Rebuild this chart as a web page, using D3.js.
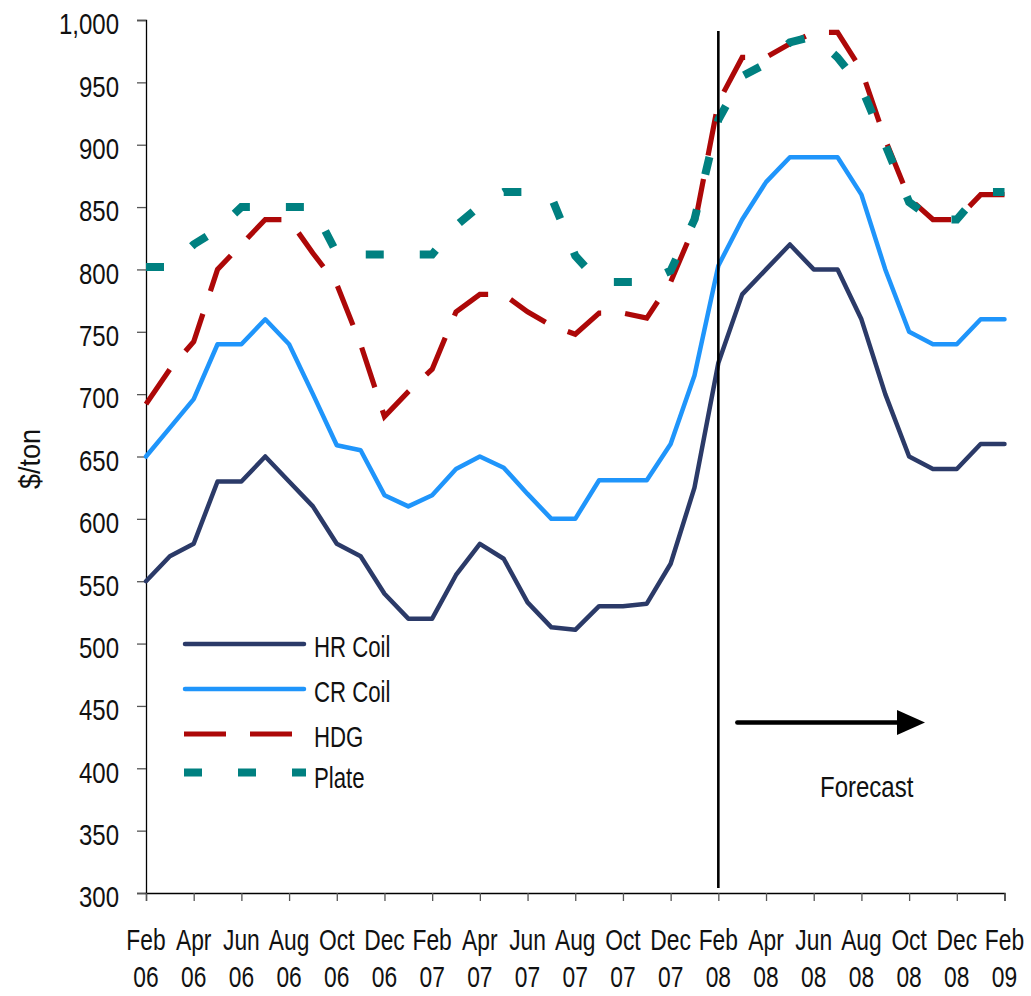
<!DOCTYPE html>
<html>
<head>
<meta charset="utf-8">
<script src="https://cdn.jsdelivr.net/npm/d3@7"></script>
<style>
  body { margin: 0; background: #fff; }
  svg text {
    font-family: "Liberation Sans", Arial, sans-serif;
    fill: #111;
  }
</style>
</head>
<body>
<svg id="chart" width="1031" height="996"></svg>
<script>
// Monthly steel price series, Feb 2006 - Feb 2009 ($/ton)
const months = [
  "Feb 06","Mar 06","Apr 06","May 06","Jun 06","Jul 06","Aug 06","Sep 06","Oct 06","Nov 06","Dec 06",
  "Jan 07","Feb 07","Mar 07","Apr 07","May 07","Jun 07","Jul 07","Aug 07","Sep 07","Oct 07","Nov 07","Dec 07",
  "Jan 08","Feb 08","Mar 08","Apr 08","May 08","Jun 08","Jul 08","Aug 08","Sep 08","Oct 08","Nov 08","Dec 08",
  "Jan 09","Feb 09"
];

const tickMonths = [
  "Feb 06","Apr 06","Jun 06","Aug 06","Oct 06","Dec 06",
  "Feb 07","Apr 07","Jun 07","Aug 07","Oct 07","Dec 07",
  "Feb 08","Apr 08","Jun 08","Aug 08","Oct 08","Dec 08","Feb 09"
];

const hrCoil = [
  550, 570, 580, 630, 630, 650, 630, 610, 580, 570, 540,
  520, 520, 555, 580, 568, 533, 513, 511, 530, 530, 532, 564,
  625, 725, 780, 800, 820, 800, 800, 760, 700, 650, 640, 640,
  660, 660
];

const crCoil = [
  650, 673, 696, 740, 740, 760, 740, 700, 659, 655, 619,
  610, 619, 640, 650, 641, 620, 600, 600, 631, 631, 631, 660,
  715, 803, 840, 870, 890, 890, 890, 860, 800, 750, 740, 740,
  760, 760
];

const hdg = [
  692, 720, 742, 800, 820, 840, 840, 813, 788, 740, 682,
  702, 720, 766, 780, 780, 766, 755, 748, 765, 765, 761, 790,
  835, 934, 970, 970, 981, 990, 990, 960, 904, 857, 840, 840,
  860, 860
];

const plate = [
  802, 802, 820, 832, 850, 850, 850, 850, 813, 812, 812,
  812, 812, 835, 851, 862, 862, 858, 811, 790, 790, 790, 799,
  840, 920, 955, 965, 982, 987, 970, 946, 900, 854, 840, 840,
  862, 862
];

const yTicks = [300, 350, 400, 450, 500, 550, 600, 650, 700, 750, 800, 850, 900, 950, 1000];

const forecastStart = "Feb 08";

const series = [
  { name: "HR Coil", values: hrCoil, color: "#2b3a68", width: 4.5, dash: null },
  { name: "CR Coil", values: crCoil, color: "#1f95fb", width: 4.5, dash: null },
  { name: "HDG",     values: hdg,    color: "#ad0808", width: 5.2, dash: "42,24" },
  { name: "Plate",   values: plate,  color: "#008080", width: 8,   dash: "18,36" }
];

// Narrow the glyphs horizontally to get a condensed face from the regular one
function condense(sel, k = 0.8) {
  sel.each(function () {
    const w = this.getComputedTextLength();
    d3.select(this).attr("textLength", w * k).attr("lengthAdjust", "spacingAndGlyphs");
  });
}

const svg = d3.select("#chart");

const x = d3.scalePoint().domain(months).range([146, 1004.5]);
const y = d3.scaleLinear().domain([300, 1000]).range([893, 20]);

// Y axis
const yAxis = svg.append("g")
  .attr("transform", "translate(146,0)")
  .call(d3.axisLeft(y).tickValues(yTicks).tickFormat(d3.format(",")).tickSize(9).tickPadding(18));
yAxis.attr("font-family", null).attr("font-size", null);
yAxis.select(".domain").attr("stroke", "#000").attr("stroke-width", 1.3);
yAxis.selectAll(".tick line").attr("stroke", "#555").attr("stroke-width", 1.3);
yAxis.selectAll(".tick text")
  .attr("font-size", 30)
  .attr("dy", "0.46em")
  .call(condense);

// X axis
const xAxis = svg.append("g")
  .attr("transform", "translate(0,893)")
  .call(d3.axisBottom(x).tickValues(tickMonths).tickSize(8).tickFormat(""));
xAxis.select(".domain").attr("stroke", "#000").attr("stroke-width", 1.3);
xAxis.selectAll(".tick line").attr("stroke", "#555").attr("stroke-width", 1.3);

const xLabels = svg.append("g").attr("class", "x-labels");
tickMonths.forEach(m => {
  const [mon, yr] = m.split(" ");
  xLabels.append("text")
    .attr("x", x(m)).attr("y", 950)
    .attr("text-anchor", "middle")
    .attr("font-size", 30)
    .text(mon);
  xLabels.append("text")
    .attr("x", x(m)).attr("y", 987)
    .attr("text-anchor", "middle")
    .attr("font-size", 30)
    .text(yr);
});
xLabels.selectAll("text").call(condense, 0.76);

// Y axis title
svg.append("text")
  .attr("transform", "translate(40,459) rotate(-90)")
  .attr("text-anchor", "middle")
  .attr("font-size", 30)
  .text("$/ton")
  .call(condense, 0.9);

// Series lines
const line = d3.line()
  .x((d, i) => x(months[i]))
  .y(d => y(d));

series.forEach(s => {
  const p = svg.append("path")
    .datum(s.values)
    .attr("fill", "none")
    .attr("stroke", s.color)
    .attr("stroke-width", s.width)
    .attr("d", line);
  if (s.dash) {
    p.attr("stroke-dasharray", s.dash).attr("stroke-linecap", "butt").attr("stroke-linejoin", "miter");
  } else {
    p.attr("stroke-linecap", "round").attr("stroke-linejoin", "round");
  }
});

// Forecast divider
const fx = x(forecastStart);
svg.append("line")
  .attr("x1", fx).attr("x2", fx)
  .attr("y1", 31).attr("y2", 888)
  .attr("stroke", "#000")
  .attr("stroke-width", 2.6);

// Forecast arrow
svg.append("line")
  .attr("x1", fx + 19).attr("x2", 900)
  .attr("y1", 722.5).attr("y2", 722.5)
  .attr("stroke", "#000")
  .attr("stroke-width", 4.5)
  .attr("stroke-linecap", "round");
svg.append("path")
  .attr("d", "M897,710 L925,722.5 L897,735 Z")
  .attr("fill", "#000");

svg.append("text")
  .attr("x", 820)
  .attr("y", 797)
  .attr("font-size", 30)
  .text("Forecast")
  .call(condense);

// Legend
const legendRows = [
  { s: series[0], y: 644,   ty: 657 },
  { s: series[1], y: 689,   ty: 702 },
  { s: series[2], y: 734,   ty: 747 },
  { s: series[3], y: 772.5, ty: 788 }
];
const legend = svg.append("g").attr("class", "legend");
legendRows.forEach(r => {
  const l = legend.append("line")
    .attr("y1", r.y).attr("y2", r.y)
    .attr("stroke", r.s.color)
    .attr("stroke-width", r.s.width);
  if (r.s.dash) {
    l.attr("x1", 184).attr("x2", 306).attr("stroke-dasharray", r.s.dash);
  } else {
    l.attr("x1", 185).attr("x2", 304).attr("stroke-linecap", "round");
  }
  legend.append("text")
    .attr("x", 314)
    .attr("y", r.ty)
    .attr("font-size", 30)
    .text(r.s.name)
    .call(condense, 0.74);
});
</script>
</body>
</html>
